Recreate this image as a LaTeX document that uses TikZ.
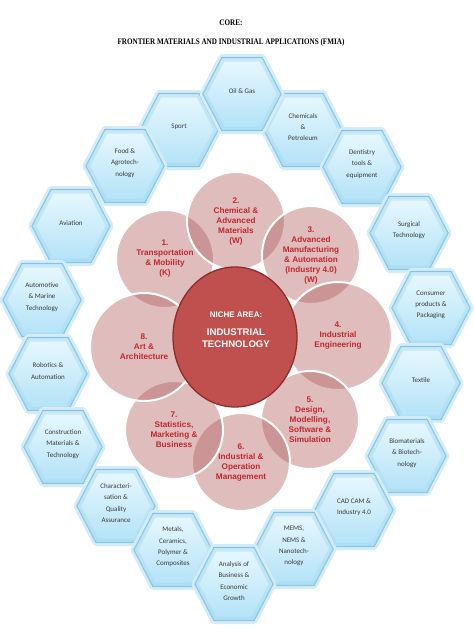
\documentclass[tikz,border=0pt]{standalone}
\usepackage{fontspec}
\setmainfont{Liberation Serif}
\newfontfamily\hexfont{Carlito}
\newfontfamily\arialfont{Liberation Sans}
\usetikzlibrary{shapes.geometric}
\definecolor{hexedge}{HTML}{7DBFDF}
\definecolor{hexglowc}{HTML}{D3ECF8}
\definecolor{hexrim}{HTML}{A9DBF1}
\definecolor{hextop}{HTML}{E8F8FE}
\definecolor{hexbot}{HTML}{B2E2F7}
\definecolor{hexink}{HTML}{3A3A3A}
\definecolor{petalc}{HTML}{B05A5A}
\definecolor{petalink}{HTML}{C4262D}
\definecolor{corefill}{HTML}{C0504D}
\definecolor{coreedge}{HTML}{8E2C2A}
\tikzset{
  hexglow/.style={draw=hexglowc,line width=7pt,line join=round},
  hexrimline/.style={draw=hexrim,line width=4pt,line join=round},
  hexbody/.style={top color=hextop,bottom color=hexbot,draw=hexedge,line width=1.2pt,line join=round},
  hextext/.style={font=\hexfont\fontsize{7}{11.3}\selectfont,text=hexink,align=center,inner sep=0pt,yshift=3pt},
  petal/.style={circle,minimum size=#1,inner sep=0pt,fill=petalc,fill opacity=0.4,text opacity=1,draw=white,draw opacity=1,line width=2pt,text=petalink,align=center,font=\arialfont\bfseries\fontsize{8.2}{10}\selectfont},
  petal/.default=98pt,
  coreshape/.style={ellipse,minimum width=124pt,minimum height=140pt,fill=corefill,draw=coreedge,line width=1.3pt},
  titletext/.style={font=\bfseries\fontsize{8.5}{10}\selectfont,inner sep=0pt}
}
\newcommand\hexcell[3]{%
  \path[hexglow,shift={(#2)}] (-39,0) -- (-20,-36.5) -- (20,-36.5) -- (39,0) -- (20,36.5) -- (-20,36.5) -- cycle;
  \path[hexbody,shift={(#2)}] (-39,0) -- (-20,-36.5) -- (20,-36.5) -- (39,0) -- (20,36.5) -- (-20,36.5) -- cycle;
  \path[hexrimline,draw opacity=0.5,shift={(#2)}] (-37,0) -- (-19,-34.5) -- (19,-34.5) -- (37,0) -- (19,34.5) -- (-19,34.5) -- cycle;
  \node[hextext] (#1) at (#2) {#3};}
\begin{document}
\begin{tikzpicture}[x=1pt,y=-1pt]
\useasboundingbox (0,0) rectangle (474,633);
\fill[white] (0,0) rectangle (474,633);
\node[titletext] (core) at (231,23) {\scalebox{0.84}[1]{CORE:}};
\node[titletext] (fmia) at (231,42) {\scalebox{0.84}[1]{FRONTIER MATERIALS AND INDUSTRIAL APPLICATIONS (FMIA)}};

\hexcell{sport}{179,130}{Sport}
\hexcell{chem}{303,130}{Chemicals\\\&\\Petroleum}
\hexcell{oil}{242,94}{Oil \& Gas}
\hexcell{food}{125,166}{Food \&\\Agrotech-\\nology}
\hexcell{dent}{362,167}{Dentistry\\tools \&\\equipment}
\hexcell{avia}{71,226}{Aviation}
\hexcell{surg}{409,233}{Surgical\\Technology}
\hexcell{auto}{42,300}{Automotive\\\& Marine\\Technology}
\hexcell{consu}{431,308}{Consumer\\products \&\\Packaging}
\hexcell{robo}{48,374}{Robotics \&\\Automation}
\hexcell{textile}{421,383}{Textile}
\hexcell{constr}{63,447}{Construction\\Materials \&\\Technology}
\hexcell{bio}{407,456}{Biomaterials\\\& Biotech-\\nology}
\hexcell{charac}{116,506}{Characteri-\\sation \&\\Quality\\Assurance}
\hexcell{cad}{354,510}{CAD CAM \&\\Industry 4.0}
\hexcell{metal}{173,550}{Metals,\\Ceramics,\\Polymer \&\\Composites}
\hexcell{mems}{294,549}{MEMS,\\NEMS \&\\Nanotech-\\nology}
\hexcell{anal}{234,584}{Analysis of\\Business \&\\Economic\\Growth}

\node[petal] (p1) at (165,259) {1.\\Transportation\\\& Mobility\\(K)};
\node[petal] (p2) at (236,221) {2.\\Chemical \&\\Advanced\\Materials\\(W)};
\node[petal] (p3) at (311,255) {3.\\Advanced\\Manufacturing\\\& Automation\\(Industry 4.0)\\(W)};
\node[petal=108pt] (p4) at (338,336) {4.\\Industrial\\Engineering};
\node[petal] (p5) at (310,420) {5.\\Design,\\Modelling,\\Software \&\\Simulation};
\node[petal] (p6) at (241,462) {6.\\Industrial \&\\Operation\\Management};
\node[petal] (p7) at (174,430) {7.\\Statistics,\\Marketing \&\\Business};
\node[petal=108pt] (p8) at (144,347) {8.\\Art \&\\Architecture};

\node[coreshape] (niche) at (235,337) {};
\node[align=center,text=white,inner sep=0pt,font=\arialfont\bfseries] (nichetext) at (236,330)
  {{\fontsize{8}{10}\selectfont NICHE AREA:}\\[6pt]{\fontsize{9.6}{11}\selectfont INDUSTRIAL}\\{\fontsize{9.6}{11}\selectfont TECHNOLOGY}};
\end{tikzpicture}
\end{document}
